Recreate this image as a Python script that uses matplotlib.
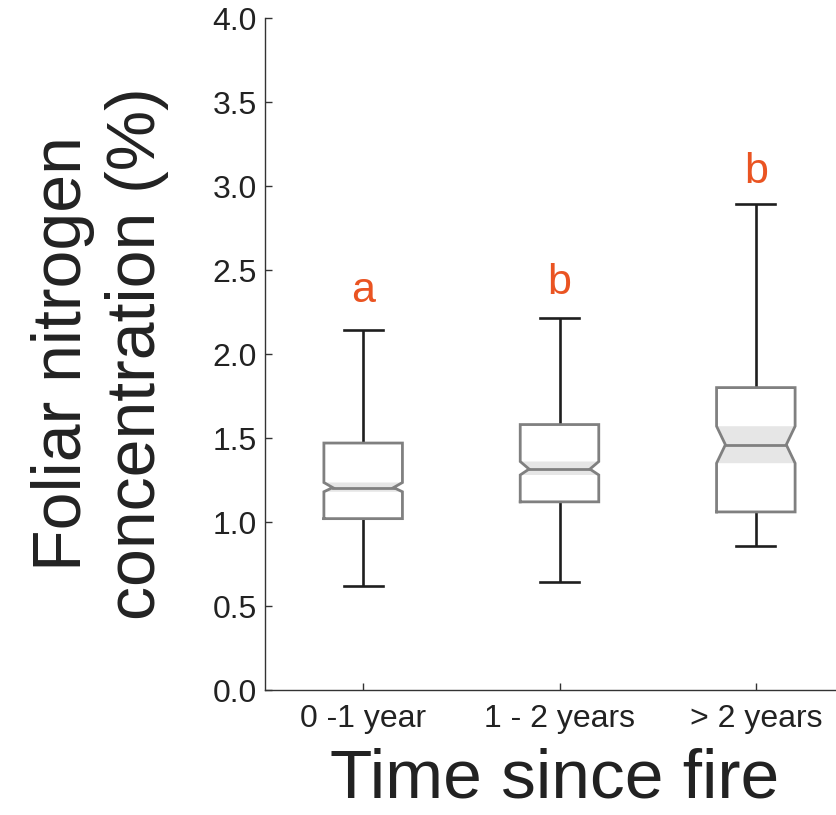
import numpy as np
import matplotlib
matplotlib.use('Agg')
import matplotlib.pyplot as plt

plt.rcParams['font.family'] = ['Liberation Sans', 'DejaVu Sans']

groups = ['0 -1 year', '1 - 2 years', '> 2 years']
whisker_lo = [0.62, 0.64, 0.86]
q1 = [1.02, 1.12, 1.06]
notch_lo = [1.18, 1.28, 1.35]
median = [1.205, 1.315, 1.46]
notch_hi = [1.235, 1.36, 1.57]
q3 = [1.47, 1.58, 1.80]
whisker_hi = [2.14, 2.215, 2.895]
letters = ['a', 'b', 'b']
letter_y = [2.31, 2.36, 3.02]

box_col = '#808080'
shade_col = '#e6e6e6'
whisk_col = '#1e1e1e'
letter_col = '#ea5422'
txt_col = '#222222'

fig = plt.figure(figsize=(8.36, 8.15), dpi=100)
ax = fig.add_axes([265/836, 125/815, 589/836, 672/815])

hw = 0.20     # half box width
nd = 0.045    # notch depth
cw = 0.10     # half cap width

for i in range(len(groups)):
    x = i + 1
    L, R = x - hw, x + hw
    # whiskers and caps
    ax.plot([x, x], [q3[i], whisker_hi[i]], color=whisk_col, lw=1.9, zorder=1, solid_capstyle='butt')
    ax.plot([x, x], [whisker_lo[i], q1[i]], color=whisk_col, lw=1.9, zorder=1, solid_capstyle='butt')
    ax.plot([x - cw, x + cw], [whisker_hi[i]] * 2, color=whisk_col, lw=1.9, zorder=1)
    ax.plot([x - cw, x + cw], [whisker_lo[i]] * 2, color=whisk_col, lw=1.9, zorder=1)
    # notched box outline
    bx = [L, R, R, R - nd, R, R, L, L, L + nd, L, L]
    by = [q1[i], q1[i], notch_lo[i], median[i], notch_hi[i], q3[i], q3[i],
          notch_hi[i], median[i], notch_lo[i], q1[i]]
    ax.fill(bx, by, facecolor='white', edgecolor='none', zorder=2)
    # shaded confidence band inside the notch
    sx = [L, R, R - nd, R, L, L + nd]
    sy = [notch_lo[i], notch_lo[i], median[i], notch_hi[i], notch_hi[i], median[i]]
    ax.fill(sx, sy, facecolor=shade_col, edgecolor='none', zorder=3)
    ax.plot(bx, by, color=box_col, lw=2.0, zorder=4, solid_joinstyle='miter')
    ax.plot([L + nd, R - nd], [median[i]] * 2, color=box_col, lw=2.0, zorder=4)
    ax.text(x, letter_y[i], letters[i], color=letter_col, fontsize=31,
            ha='center', va='baseline')

ax.set_xlim(0.5, 3.5)
ax.set_ylim(0, 4.0)
ax.set_yticks(np.arange(0, 4.01, 0.5))
ax.set_yticklabels(['%.1f' % v for v in np.arange(0, 4.01, 0.5)])
ax.set_xticks([1, 2, 3])
ax.set_xticklabels(groups)

for s in ['top', 'right']:
    ax.spines[s].set_visible(False)
for s in ['left', 'bottom']:
    ax.spines[s].set_color('#333333')
    ax.spines[s].set_linewidth(1.0)

ax.tick_params(axis='y', direction='in', length=5, width=1, color='#333333',
               labelsize=23, labelcolor=txt_col, pad=6)
ax.tick_params(axis='x', direction='in', length=5, width=1, color='#333333',
               labelsize=23, labelcolor=txt_col, pad=10)

ax.set_xlabel('Time since fire', fontsize=50, color=txt_col, va='baseline')
ax.xaxis.set_label_coords((555 - 265) / 589, (690 - 798) / 672)

fig.text(100/836, 1 - 354/815, 'Foliar nitrogen\nconcentration (%)', rotation=90,
         ha='center', va='center', multialignment='center', fontsize=49,
         color=txt_col, linespacing=1.2)

fig.savefig('out.png', dpi=100)
